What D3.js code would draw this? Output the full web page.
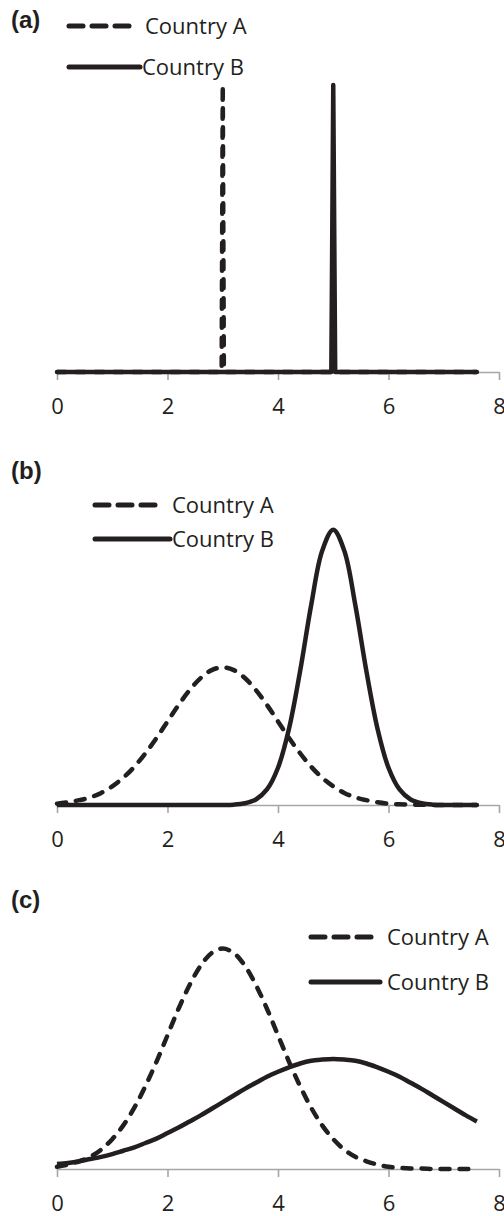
<!DOCTYPE html>
<html>
<head>
<meta charset="utf-8">
<script src="https://cdn.jsdelivr.net/npm/d3@7"></script>
<style>
  body { margin: 0; background: #fff; }
  svg { display: block; }
</style>
</head>
<body>
<div id="viz"></div>
<script>
// values
const xGrid = [0, 0.2, 0.4, 0.6, 0.8, 1.0, 1.2, 1.4, 1.6, 1.8, 2.0, 2.2, 2.4, 2.6, 2.8, 3.0, 3.2, 3.4, 3.6, 3.8,
               4.0, 4.2, 4.4, 4.6, 4.8, 5.0, 5.2, 5.4, 5.6, 5.8, 6.0, 6.2, 6.4, 6.6, 6.8, 7.0, 7.2, 7.4, 7.6];

// country A, panels (b) and (c)
const countryA = [0.004, 0.008, 0.014, 0.022, 0.035, 0.054, 0.079, 0.111, 0.150, 0.194, 0.242, 0.290, 0.333, 0.368, 0.391, 0.399,
                  0.391, 0.368, 0.333, 0.290, 0.242, 0.194, 0.150, 0.111, 0.079, 0.054, 0.035, 0.022, 0.014, 0.008, 0.004,
                  0.002, 0.001, 0.001, 0, 0, 0, 0, 0];

// country B, panel (b)
const countryBNarrow = [0, 0, 0, 0, 0, 0, 0, 0, 0, 0, 0, 0, 0, 0, 0, 0, 0.001, 0.005, 0.016, 0.045,
                        0.108, 0.222, 0.388, 0.579, 0.737, 0.798, 0.737, 0.579, 0.388, 0.222, 0.108, 0.045, 0.016, 0.005,
                        0.001, 0, 0, 0, 0];

// country B, panel (c)
const countryBWide = [0.009, 0.011, 0.014, 0.018, 0.022, 0.027, 0.033, 0.039, 0.047, 0.055, 0.065, 0.075, 0.086, 0.097, 0.109, 0.121,
                      0.133, 0.145, 0.156, 0.167, 0.176, 0.184, 0.191, 0.196, 0.198, 0.199, 0.198, 0.196, 0.191, 0.184, 0.176,
                      0.167, 0.156, 0.145, 0.133, 0.121, 0.109, 0.097, 0.086];

// panel (a): single spikes
const spikeAx = [0, 2.98, 3.0, 3.02, 7.6];
const spikeAy = [0, 0, 1, 0, 0];
const spikeBx = [0, 4.965, 5.0, 5.035, 7.6];
const spikeBy = [0, 0, 1, 0, 0];

const tickValues = [0, 2, 4, 6, 8];
const panelLabels = ['(a)', '(b)', '(c)'];
const seriesNames = ['Country A', 'Country B'];

const ink = '#231f20';
const axisGrey = '#a6a6a6';
const width = 504;
const height = 1216;

const zip = (xs, ys) => xs.map((x, i) => ({x: x, y: ys[i]}));

const panels = [
    {
        label: panelLabels[0], labelY: 28,
        axisY: 372, topY: 85, yMax: 1, curve: d3.curveLinear,
        series: [zip(spikeAx, spikeAy), zip(spikeBx, spikeBy)],
        legend: {x1: 69, dashX2: 132, solidX2: 140, textA: 145, textB: 142, yA: 26, yB: 67}
    },
    {
        label: panelLabels[1], labelY: 479,
        axisY: 805, topY: 529, yMax: 0.8, curve: d3.curveCatmullRom.alpha(0.5),
        series: [zip(xGrid, countryA), zip(xGrid, countryBNarrow)],
        legend: {x1: 95, dashX2: 156, solidX2: 170, textA: 172, textB: 172, yA: 505, yB: 539}
    },
    {
        label: panelLabels[2], labelY: 908,
        axisY: 1169, topY: 948, yMax: 0.4, curve: d3.curveCatmullRom.alpha(0.5),
        series: [zip(xGrid, countryA), zip(xGrid, countryBWide)],
        legend: {x1: 311, dashX2: 374, solidX2: 380, textA: 387, textB: 387, yA: 937, yB: 982}
    }
];

const svg = d3.select('#viz').append('svg')
    .attr('width', width)
    .attr('height', height)
    .style('background', '#fff');

const xScale = d3.scaleLinear()
    .domain([0, 8])
    .range([57, 499]);

panels.forEach((p) => {
    const g = svg.append('g');

    const yScale = d3.scaleLinear()
        .domain([0, p.yMax])
        .range([p.axisY, p.topY]);

    // axis
    const xAxis = d3.axisBottom(xScale)
        .tickValues(tickValues)
        .tickSize(8)
        .tickSizeOuter(0)
        .tickPadding(18)
        .tickFormat(d3.format('d'));

    const axisG = g.append('g')
        .attr('transform', 'translate(0,' + p.axisY + ')')
        .call(xAxis);
    axisG.select('.domain').attr('stroke', axisGrey).attr('stroke-width', 1.6);
    axisG.selectAll('.tick line').attr('stroke', axisGrey).attr('stroke-width', 1.6);
    axisG.selectAll('.tick text')
        .attr('fill', ink)
        .style('font-family', '"Open Sans", sans-serif')
        .style('font-size', '22px');

    const line = d3.line()
        .x(d => xScale(d.x))
        .y(d => yScale(d.y))
        .curve(p.curve);

    // country A dashed, country B solid on top
    g.append('path')
        .datum(p.series[0])
        .attr('d', line)
        .attr('fill', 'none')
        .attr('stroke', ink)
        .attr('stroke-width', 4.5)
        .attr('stroke-linecap', 'round')
        .attr('stroke-linejoin', 'round')
        .attr('stroke-dasharray', '9,10');

    g.append('path')
        .datum(p.series[1])
        .attr('d', line)
        .attr('fill', 'none')
        .attr('stroke', ink)
        .attr('stroke-width', 4.5)
        .attr('stroke-linejoin', 'round');

    // panel letter
    g.append('text')
        .attr('x', 11)
        .attr('y', p.labelY)
        .attr('fill', ink)
        .style('font-family', '"Liberation Sans", Arial, sans-serif')
        .style('font-weight', 'bold')
        .style('font-size', '24px')
        .text(p.label);

    // legend
    const lg = p.legend;
    g.append('line')
        .attr('x1', lg.x1).attr('x2', lg.dashX2)
        .attr('y1', lg.yA).attr('y2', lg.yA)
        .attr('stroke', ink)
        .attr('stroke-width', 5)
        .attr('stroke-linecap', 'round')
        .attr('stroke-dasharray', '14,9');
    g.append('line')
        .attr('x1', lg.x1).attr('x2', lg.solidX2)
        .attr('y1', lg.yB).attr('y2', lg.yB)
        .attr('stroke', ink)
        .attr('stroke-width', 5)
        .attr('stroke-linecap', 'round');

    g.selectAll('.legend-text')
        .data([[seriesNames[0], lg.textA, lg.yA], [seriesNames[1], lg.textB, lg.yB]])
        .enter().append('text')
            .attr('class', 'legend-text')
            .attr('x', d => d[1])
            .attr('y', d => d[2] + 8)
            .attr('fill', ink)
            .style('font-family', '"Open Sans", sans-serif')
            .style('font-size', '22px')
            .text(d => d[0]);
});
</script>
</body>
</html>
